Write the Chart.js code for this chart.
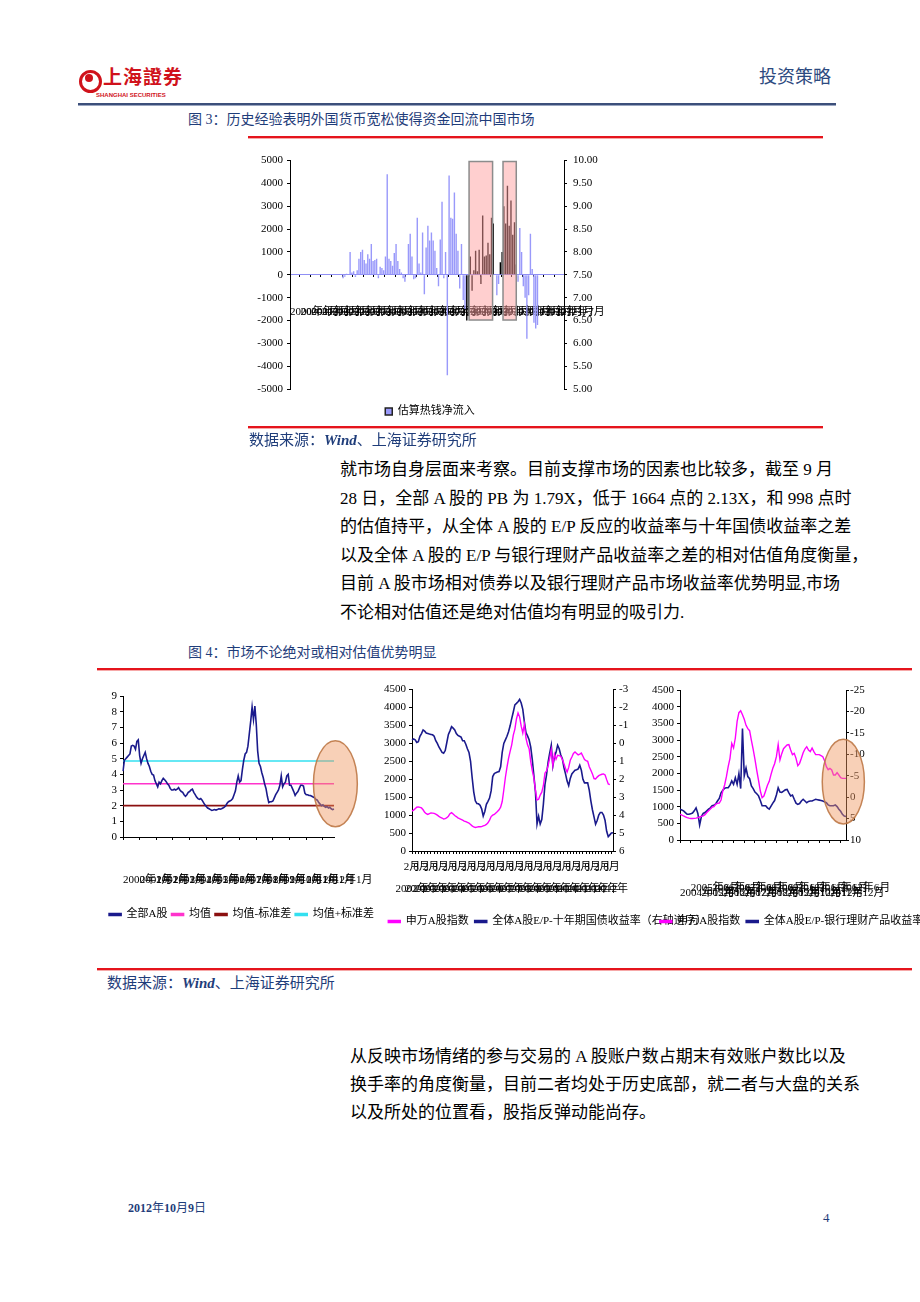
<!DOCTYPE html>
<html lang="zh-CN">
<head>
<meta charset="utf-8">
<title>投资策略</title>
<script src="https://cdn.jsdelivr.net/npm/chart.js@4.4.0/dist/chart.umd.min.js"></script>
<style>
html, body { margin: 0; padding: 0; background: #fff; }
body { width: 920px; height: 1302px; position: relative; overflow: hidden;
       font-family: 'Liberation Serif', 'Noto Sans CJK SC', serif; color: #000; }
.abs { position: absolute; }
.navy { color: #1f3d7a; }
.cap { font-size: 14px; line-height: 20px; }
.src { font-size: 15px; line-height: 20px; }
.src b { font-style: italic; }
.para { font-size: 17px; line-height: 28.6px; white-space: nowrap; }
.redrule { height: 2px; background: #e5141c; border-bottom: 1px solid #f6a8a8; }
canvas { position: absolute; }
</style>
</head>
<body>

<!-- header -->
<div class="abs" style="left:79px;top:70px;width:17px;height:17px;border:3px solid #d0121b;border-radius:50%;"></div>
<div class="abs" style="left:85px;top:74px;width:8px;height:8px;background:#d0121b;border-radius:50%;"></div>
<div class="abs" style="left:103px;top:67px;font-size:19px;line-height:22px;font-weight:bold;color:#d0121b;letter-spacing:1px;">上海證券</div>
<div class="abs" style="left:96px;top:91px;font-size:6px;line-height:8px;font-weight:bold;color:#d0121b;font-family:'Liberation Sans',sans-serif;">SHANGHAI SECURITIES</div>
<div class="abs navy" style="left:759px;top:65px;font-size:18px;line-height:24px;color:#2d4a80;">投资策略</div>
<div class="abs" style="left:78px;top:103px;width:758px;height:2px;background:#3c4f7a;border-bottom:1px solid #9aa6c0;"></div>

<!-- figure 3 -->
<div class="abs navy cap" style="left:188px;top:110px;">图 3：历史经验表明外国货币宽松使得资金回流中国市场</div>
<div class="abs redrule" style="left:248px;top:136px;width:575px;"></div>
<canvas id="flowChart" style="left:240px;top:148px;" width="380" height="290"></canvas>
<div class="abs redrule" style="left:248px;top:426px;width:575px;"></div>
<div class="abs navy src" style="left:249px;top:430px;">数据来源：<b>Wind</b>、上海证券研究所</div>

<div class="abs para" style="left:340px;top:456px;">
就市场自身层面来考察。目前支撑市场的因素也比较多，截至 9 月<br>
28 日，全部 A 股的 PB 为 1.79X，低于 1664 点的 2.13X，和 998 点时<br>
的估值持平，从全体 A 股的 E/P 反应的收益率与十年国债收益率之差<br>
以及全体 A 股的 E/P 与银行理财产品收益率之差的相对估值角度衡量，<br>
目前 A 股市场相对债券以及银行理财产品市场收益率优势明显,市场<br>
不论相对估值还是绝对估值均有明显的吸引力.
</div>

<!-- figure 4 -->
<div class="abs navy cap" style="left:188px;top:643px;">图 4：市场不论绝对或相对估值优势明显</div>
<div class="abs redrule" style="left:97px;top:668px;width:815px;"></div>
<canvas id="pbChart" style="left:89px;top:685px;" width="305" height="245"></canvas>
<canvas id="bondChart" style="left:370px;top:680px;" width="355" height="260"></canvas>
<canvas id="wealthChart" style="left:637px;top:680px;" width="375" height="260"></canvas>
<div class="abs redrule" style="left:97px;top:968px;width:815px;"></div>
<div class="abs navy src" style="left:107px;top:973px;">数据来源：<b>Wind</b>、上海证券研究所</div>

<div class="abs para" style="left:350px;top:1043px;line-height:28px;">
从反映市场情绪的参与交易的 A 股账户数占期末有效账户数比以及<br>
换手率的角度衡量，目前二者均处于历史底部，就二者与大盘的关系<br>
以及所处的位置看，股指反弹动能尚存。
</div>

<!-- footer -->
<div class="abs navy" style="left:128px;top:1200px;font-size:12px;line-height:16px;font-weight:bold;">2012<span style="font-weight:normal">年</span>10<span style="font-weight:normal">月</span>9<span style="font-weight:normal">日</span></div>
<div class="abs navy" style="left:823px;top:1209px;font-size:13px;line-height:18px;">4</div>

<script>
// ---------- data ----------
function monthLabels(y, m, n) {
    let out = [];
    for (let i = 0; i < n; i++) {
        out.push(y + "年" + m + "月");
        m++;
        if (m > 12) { m = 1; y++; }
    }
    return out;
}

// fig 3: estimated hot money net inflow, monthly from 2000-01
const flowCats = monthLabels(2000, 1, 156);
const flowValues = [
    0, 0, 0, 0, 0, 0, 0, 0, 0, 0, 0, 0, 0, 0, 0, 0, 0, 0, 0, 0, 0, 0, 0, 0, 0, 0, 0, 0, 0, 0,
    -150, -80, 50, 0, 1000, 100, 150, -100, 200, 700,
    1000, 1100, 650, 500, 900, 700, 1350, 600, 650, 700,
    -150, 350, 300, 200, 800, 4400, 700, 600, 400, 950,
    1350, 600, 250, 100, -150, -300, 0, 1350, 1800, 800,
    -200, -150, 2500, 500, 100, 1850, -850, 1200, 2150, 1500,
    1850, 1500, 1050, 300, -500, 1550, 3200, -150, 1000, -4400,
    4350, 2500, 2450, 3600, 1800, 1050, -600, 1350, -1100, -1500,
    -2000, -1800, 800, -700, 200, 1050, 150, 1100, -400, 2600,
    800, 850, 1400, 900, 2500, 2250, 0, -900, -400, 550,
    1000, 3000, 2250, 3900, 2150, 3250, 1750, 2300, 450, -300,
    2050, 1000, -500, -1000, -2800, -900, 1800, 250, -2100, -2350,
    -2200, 0, 0, 0, 0, 0, 0, 0, 0, 0, 0, 0, 0, 0, 0
];
const darkRanges = [[100, 115], [119, 128]];   // bars inside the QE windows
const qeBoxes = [[101.3, 114.6], [120.5, 128]];  // in category index units
const qeBoxTop = 4960, qeBoxBottom = -1980;

// fig 4 left: PB of all A shares, monthly from 2000-01
const pbCats = monthLabels(2000, 1, 153);
const pbValues = [
    4.2, 4.9, 5.0, 5.1, 5.2, 5.3, 5.8, 5.85, 5.8, 5.6, 6.1, 6.2,
    5.2, 4.7, 5.0, 5.2, 5.4, 5.0, 4.7, 4.5, 4.2, 4.0, 3.95, 3.6,
    3.4, 3.2, 3.5, 3.4, 3.6, 3.75, 3.65, 3.55, 3.4, 3.3, 3.1, 3.0,
    3.0, 3.05, 3.0, 3.05, 3.15, 3.0, 2.9, 2.85, 2.7, 2.6, 2.7, 2.85,
    2.9, 3.0, 3.05, 2.85, 2.7, 2.55, 2.45, 2.4, 2.45, 2.35, 2.2, 2.05,
    1.95, 1.85, 1.8, 1.75, 1.7, 1.72, 1.75, 1.72, 1.75, 1.8, 1.78, 1.8,
    1.85, 1.9, 2.0, 2.15, 2.25, 2.3, 2.35, 2.45, 2.7, 2.95, 3.5, 3.9,
    3.5, 3.6, 4.3, 4.9, 5.3, 5.4, 5.8, 6.6, 7.4, 8.3, 7.5, 8.35,
    7.2, 5.5, 4.7, 4.5, 4.1, 3.8, 3.4, 3.1, 2.6, 2.2, 2.25, 2.25,
    2.3, 2.5, 2.7, 2.85, 3.0, 3.3, 3.9, 3.2, 3.4, 3.5, 3.9, 4.0,
    3.3, 3.3, 3.1, 2.9, 2.65, 2.8, 2.9, 3.1, 3.3, 3.3, 3.25, 2.8,
    2.7, 2.7, 2.65, 2.65, 2.6, 2.55, 2.5, 2.4, 2.35, 2.2, 2.1, 2.0,
    2.05, 1.95, 1.9, 1.95, 1.85, 1.9, 1.8, 1.75, 1.79
];
const pbMean = 3.4, pbMinusStd = 2.0, pbPlusStd = 4.85;
const pbEllipse = { cx: 153, rx: 15.8, cy: 3.4, ry: 2.75 };

// fig 4 middle: SW A index vs E/P minus 10y bond yield, monthly from 2002-02
const bondCats = monthLabels(2002, 2, 128);
const bondIndex = [
    1110, 1140, 1180, 1220, 1230, 1215, 1200, 1150, 1080, 1040, 1020, 1040,
    1060, 1055, 1048, 1030, 1000, 965, 940, 920, 890, 900, 930, 970,
    1040, 1070, 1030, 990, 960, 925, 900, 880, 860, 835, 820, 800,
    780, 740, 700, 670, 655, 665, 675, 675, 680, 700, 715, 740,
    785, 860, 960, 1000, 1020, 1060, 1100, 1150, 1220, 1380, 1700, 2050,
    2330, 2580, 2780, 2960, 3230, 3400, 3680, 3850, 3740, 3480, 3290, 3540,
    3150, 2960, 2850, 2500, 2240, 2040, 1700, 1420, 1440, 1560, 1640, 1820,
    2170, 2230, 2380, 2590, 2820, 2380, 2700, 2560, 2670, 2660, 2640, 2550,
    2430, 2300, 2200, 2330, 2530, 2620, 2720, 2760, 2720, 2680, 2700, 2730,
    2640, 2550, 2520, 2500, 2350, 2250, 2150, 2020, 2010, 2060, 2100, 2120,
    2140, 2150, 2120, 1990, 1870, 1850, null, null
];
const bondSpread = [
    -0.19, -0.25, -0.2, -0.05, -0.1, -0.4, -0.55, -0.75, -0.68, -0.58, -0.55, -0.52,
    -0.5, -0.48, -0.4, -0.15, 0.0, 0.2, 0.35, 0.5, 0.55, 0.4, -0.05, -0.5,
    -0.7, -0.93, -0.85, -0.75, -0.55, -0.45, -0.4, -0.35, -0.15, -0.15, 0.05, 0.3,
    0.5, 1.0, 1.9, 2.7, 3.2, 3.35, 3.37, 3.45, 3.65, 4.05, 3.8, 3.4,
    3.23, 3.05, 2.65, 1.85, 1.68, 1.63, 1.6, 1.57, 1.3, 0.5, 0.0, -0.2,
    -0.4, -0.65, -0.98, -1.38, -1.75, -2.15, -2.23, -2.32, -2.45, -2.25, -1.9, -1.2,
    -0.6, -0.42, -0.2, 0.2, 0.9, 1.8, 2.7, 4.5, 4.06, 4.5, 4.25, 3.4,
    2.3, 1.75, 1.05, 0.55, 0.1, 1.25, 0.75, 0.5, 0.1, 0.3, 0.65, 0.85,
    1.35, 1.7, 2.1, 2.35, 1.95, 1.7, 1.6, 1.5, 1.47, 1.42, 1.22, 1.5,
    2.0, 2.2, 2.2, 2.2, 2.6, 3.2, 3.7, 4.1, 4.5, 4.3, 4.0, 3.85,
    3.85, 4.0, 4.3, 4.9, 5.2, 5.1, 5.0, 4.98
];

// fig 4 right: SW A index vs E/P minus bank wealth product yield, monthly from 2004-12
const wealthCats = monthLabels(2004, 12, 94);
const wealthIndex = [
    775, 750, 720, 695, 670, 655, 645, 645, 648, 655, 670, 690,
    710, 725, 760, 825, 880, 930, 985, 1000, 1080, 1100, 1110, 1200,
    1480, 1650, 1900, 2200, 2450, 2900, 2760, 3060, 3560, 3820, 3880, 3760,
    3620, 3440, 3340, 3280, 2990, 2720, 2420, 2090, 1790, 1470, 1270, 1320,
    1480, 1640, 1760, 1970, 2150, 2290, 2500, 2860, 2400, 2590, 2740, 2800,
    2850, 2860, 2700, 2560, 2600, 2450, 2230, 2300, 2450, 2620, 2730, 2800,
    2700, 2650, 2760, 2650, 2560, 2560, 2560, 2530, 2500, 2380, 2200, 2110,
    2150, 2100, 1950, 1950, 2020, 1950, 1870, 1850, 1850, 1850
];
const wealthSpread = [
    2.8, 3.0, 3.2, 3.6, 4.0, 4.0, 3.9, 3.7, 3.2, 2.5, 3.8, 6.5,
    4.5, 3.8, 3.6, 3.2, 2.8, 2.5, 2.0, 1.9, 1.6, 0.9, 0.3, -1.0,
    -1.6, -2.1, -2.2, -2.2, -2.8, -3.8, -3.0, -4.5, -3.0, -5.5, -2.0, -16.0,
    -5.0, -6.8, -4.8, -4.3, -2.6, -2.0, -1.2, -0.8, -0.3, 0.8, 2.0, 2.0,
    2.0, 2.5, 2.8, 2.1, 1.4, 0.8, -0.5, -2.2, -1.2, -1.1, -1.4, -1.7,
    -1.8, -1.0, -0.3, -0.5, 0.5, 1.4, 1.7, 1.5, 0.9, 0.5, 0.9, 1.3,
    1.0, 0.9, 0.9, 0.7, 0.5, 0.6, 0.7, 0.8, 0.9, 1.1, 1.3, 1.8,
    2.0, 2.0, 2.0, 1.8, 2.2, 2.8, 3.3, 4.0, 4.4, 4.5
];
const wealthEllipse = { cx: 91.5, rx: 11.8, cy: 1750, ry: 1270 };

// ---------- common ----------
const serif = "'Liberation Serif', 'Noto Sans CJK SC', serif";
Chart.defaults.font.family = serif;
Chart.defaults.font.size = 11;
Chart.defaults.color = '#000';
Chart.defaults.animation = false;

const NAVY = '#1a1a8c';
const PINK = '#ff00ff';

function tickEvery (n) {
    return ctx => (ctx.index % n === 0 ? '#000' : 'rgba(0,0,0,0)');
}

// value axis without grid, every tick labelled, fixed width
function yAxis (pos, min, max, step, width, o) {
    o = o || {};
    return {
        position: pos, min: min, max: max, reverse: !!o.reverse,
        ticks: {
            stepSize: step, autoSkip: false, padding: o.padding || 3,
            callback: o.fmt || (v => String(v))
        },
        grid: { drawOnChartArea: false, tickLength: 3, color: '#000' },
        border: { color: '#000' },
        afterFit (s) { s.width = width; }
    };
}

// empty right-hand strip so the legend keeps the full canvas width
function blankAxis (width) {
    return {
        position: 'right', display: true,
        ticks: { display: false }, grid: { display: false }, border: { display: false },
        afterFit (s) { s.width = width; }
    };
}

function ellipsePlugin (spec) {
    return {
        id: 'ellipse',
        afterDatasetsDraw (chart) {
            const x = chart.scales.x, y = chart.scales.y, ctx = chart.ctx;
            const cx = x.getPixelForValue(spec.cx);
            const rx = Math.abs(x.getPixelForValue(spec.cx + spec.rx) - cx);
            const cy = y.getPixelForValue(spec.cy);
            const ry = Math.abs(y.getPixelForValue(spec.cy + spec.ry) - cy);
            ctx.save();
            ctx.beginPath();
            ctx.ellipse(cx, cy, rx, ry, 0, 0, Math.PI * 2);
            ctx.fillStyle = 'rgba(240,150,95,0.45)';
            ctx.fill();
            ctx.lineWidth = 1.5;
            ctx.strokeStyle = 'rgba(190,120,70,0.9)';
            ctx.stroke();
            ctx.restore();
        }
    };
}

function lineLegend () {
    return {
        position: 'bottom',
        labels: { boxWidth: 12, boxHeight: 2, padding: 6, font: { size: 11, family: serif } }
    };
}

// ---------- fig 3 ----------
const flowColors = flowValues.map((v, i) =>
    darkRanges.some(r => i >= r[0] && i <= r[1]) ? '#000000' : '#9999fa');

const qeBoxPlugin = {
    id: 'qeBoxes',
    afterDatasetsDraw (chart) {
        const ctx = chart.ctx, x = chart.scales.x, y = chart.scales.y;
        const y1 = y.getPixelForValue(qeBoxTop), y2 = y.getPixelForValue(qeBoxBottom);
        ctx.save();
        qeBoxes.forEach(b => {
            const x1 = x.getPixelForValue(b[0]), x2 = x.getPixelForValue(b[1]);
            ctx.fillStyle = 'rgba(255,160,160,0.5)';
            ctx.fillRect(x1, y1, x2 - x1, y2 - y1);
            ctx.strokeStyle = '#8c8c8c';
            ctx.lineWidth = 1.5;
            ctx.strokeRect(x1, y1, x2 - x1, y2 - y1);
        });
        ctx.restore();
    }
};

new Chart(document.getElementById('flowChart'), {
    type: 'bar',
    data: {
        labels: flowCats,
        datasets: [{
            label: '估算热钱净流入',
            data: flowValues,
            backgroundColor: flowColors,
            barPercentage: 0.8,
            categoryPercentage: 1
        }]
    },
    options: {
        responsive: false,
        layout: { padding: { top: 11, bottom: 11, left: 0, right: 0 } },
        plugins: {
            tooltip: { enabled: false },
            legend: {
                position: 'bottom',
                labels: {
                    padding: 17, boxWidth: 7, boxHeight: 7,
                    font: { size: 11, family: serif },
                    generateLabels: () => [{
                        text: '估算热钱净流入', fillStyle: '#9999fa',
                        strokeStyle: '#222', lineWidth: 1.5, datasetIndex: 0
                    }]
                }
            }
        },
        scales: {
            x: {
                type: 'category', position: { y: 0 }, offset: false, z: 1,
                grid: { drawOnChartArea: false, tickLength: 2, tickColor: tickEvery(6) },
                border: { color: '#8f8ff5' },
                ticks: {
                    autoSkip: false, maxRotation: 0, minRotation: 0, align: 'start', padding: 29,
                    font: { size: 11 },
                    callback: (v, i) => (i % 6 === 0 ? flowCats[i] : '')
                }
            },
            y: yAxis('left', -5000, 5000, 1000, 50, { padding: 4 }),
            y1: yAxis('right', 5, 10, 0.5, 56, { padding: 6, fmt: v => v.toFixed(2) })
        }
    },
    plugins: [qeBoxPlugin]
});

// ---------- fig 4 left ----------
new Chart(document.getElementById('pbChart'), {
    type: 'line',
    data: {
        labels: pbCats,
        datasets: [
            { label: '全部A股', data: pbValues, borderColor: NAVY, backgroundColor: NAVY, borderWidth: 1.6 },
            { label: '均值', data: [{ x: pbCats[0], y: pbMean }, { x: pbCats[pbCats.length - 1], y: pbMean }],
              borderColor: '#ff33cc', backgroundColor: '#ff33cc', borderWidth: 1.6 },
            { label: '均值-标准差', data: [{ x: pbCats[0], y: pbMinusStd }, { x: pbCats[pbCats.length - 1], y: pbMinusStd }],
              borderColor: '#8b1010', backgroundColor: '#8b1010', borderWidth: 1.6 },
            { label: '均值+标准差', data: [{ x: pbCats[0], y: pbPlusStd }, { x: pbCats[pbCats.length - 1], y: pbPlusStd }],
              borderColor: '#33e0f0', backgroundColor: '#33e0f0', borderWidth: 1.6 }
        ]
    },
    options: {
        responsive: false,
        elements: { point: { radius: 0 }, line: { tension: 0 } },
        layout: { padding: { top: 11, right: 0, bottom: 0, left: 0 } },
        plugins: {
            tooltip: { enabled: false },
            legend: { position: 'bottom', labels: { boxWidth: 12, boxHeight: 2, padding: 4, font: { size: 11, family: serif } } }
        },
        scales: {
            x: {
                offset: false,
                grid: { drawOnChartArea: false, tickLength: 3, tickColor: tickEvery(12) },
                border: { color: '#000' },
                ticks: {
                    autoSkip: false, maxRotation: 0, minRotation: 0, align: 'start', padding: 34,
                    callback: (v, i) => (i % 12 === 0 ? pbCats[i] : '')
                },
                afterFit (s) { s.height = 68; }
            },
            y: yAxis('left', 0, 9, 1, 23),
            pad: blankAxis(60)
        }
    },
    plugins: [ellipsePlugin(pbEllipse)]
});

// ---------- fig 4 middle ----------
new Chart(document.getElementById('bondChart'), {
    type: 'line',
    data: {
        labels: bondCats,
        datasets: [
            { label: '申万A股指数', data: bondIndex, yAxisID: 'y', borderColor: PINK, backgroundColor: PINK, borderWidth: 1.4 },
            { label: '全体A股E/P-十年期国债收益率（右轴逆序）', data: bondSpread, yAxisID: 'y1',
              borderColor: NAVY, backgroundColor: NAVY, borderWidth: 1.6 }
        ]
    },
    options: {
        responsive: false,
        elements: { point: { radius: 0 }, line: { tension: 0 } },
        layout: { padding: { top: 8, right: 0, bottom: 3, left: 0 } },
        plugins: {
            tooltip: { enabled: false },
            legend: lineLegend()
        },
        scales: {
            x: {
                offset: false,
                grid: { drawOnChartArea: false, tickLength: 3, tickColor: tickEvery(2) },
                border: { color: '#000' },
                ticks: {
                    autoSkip: false, maxRotation: 0, minRotation: 0, padding: 2,
                    font: { size: 11, lineHeight: 2 },
                    callback: (v, i) => {
                        if (i % 6 !== 0) return '';
                        const p = bondCats[i].match(/\d+/g);
                        return [p[1] + '月', p[0] + '年'];
                    }
                },
                afterFit (s) { s.height = 59; }
            },
            y: yAxis('left', 0, 4500, 500, 42),
            y1: yAxis('right', -3, 6, 1, 112, { reverse: true })
        }
    }
});

// ---------- fig 4 right ----------
new Chart(document.getElementById('wealthChart'), {
    type: 'line',
    data: {
        labels: wealthCats,
        datasets: [
            { label: '申万A股指数', data: wealthIndex, yAxisID: 'y', borderColor: PINK, backgroundColor: PINK, borderWidth: 1.4 },
            { label: '全体A股E/P-银行理财产品收益率（右轴逆序）', data: wealthSpread, yAxisID: 'y1',
              borderColor: NAVY, backgroundColor: NAVY, borderWidth: 1.6 }
        ]
    },
    options: {
        responsive: false,
        elements: { point: { radius: 0 }, line: { tension: 0 } },
        layout: { padding: { top: 10, right: 0, bottom: 3, left: 0 } },
        plugins: {
            tooltip: { enabled: false },
            legend: lineLegend()
        },
        scales: {
            x: {
                offset: false,
                grid: { drawOnChartArea: false, tickLength: 3, tickColor: tickEvery(6) },
                border: { color: '#000' },
                ticks: {
                    autoSkip: false, maxRotation: 0, minRotation: 0, align: 'start', padding: 43,
                    font: { size: 11, lineHeight: 0.45 },
                    callback: (v, i) => {
                        if (i % 12 === 0) return ['', wealthCats[i]];
                        if (i % 6 === 0) return wealthCats[i];
                        return '';
                    }
                },
                afterFit (s) { s.height = 70; }
            },
            y: yAxis('left', 0, 4500, 500, 40),
            y1: yAxis('right', -25, 10, 5, 166, { reverse: true, padding: 1 })
        }
    },
    plugins: [ellipsePlugin(wealthEllipse)]
});
</script>
</body>
</html>
